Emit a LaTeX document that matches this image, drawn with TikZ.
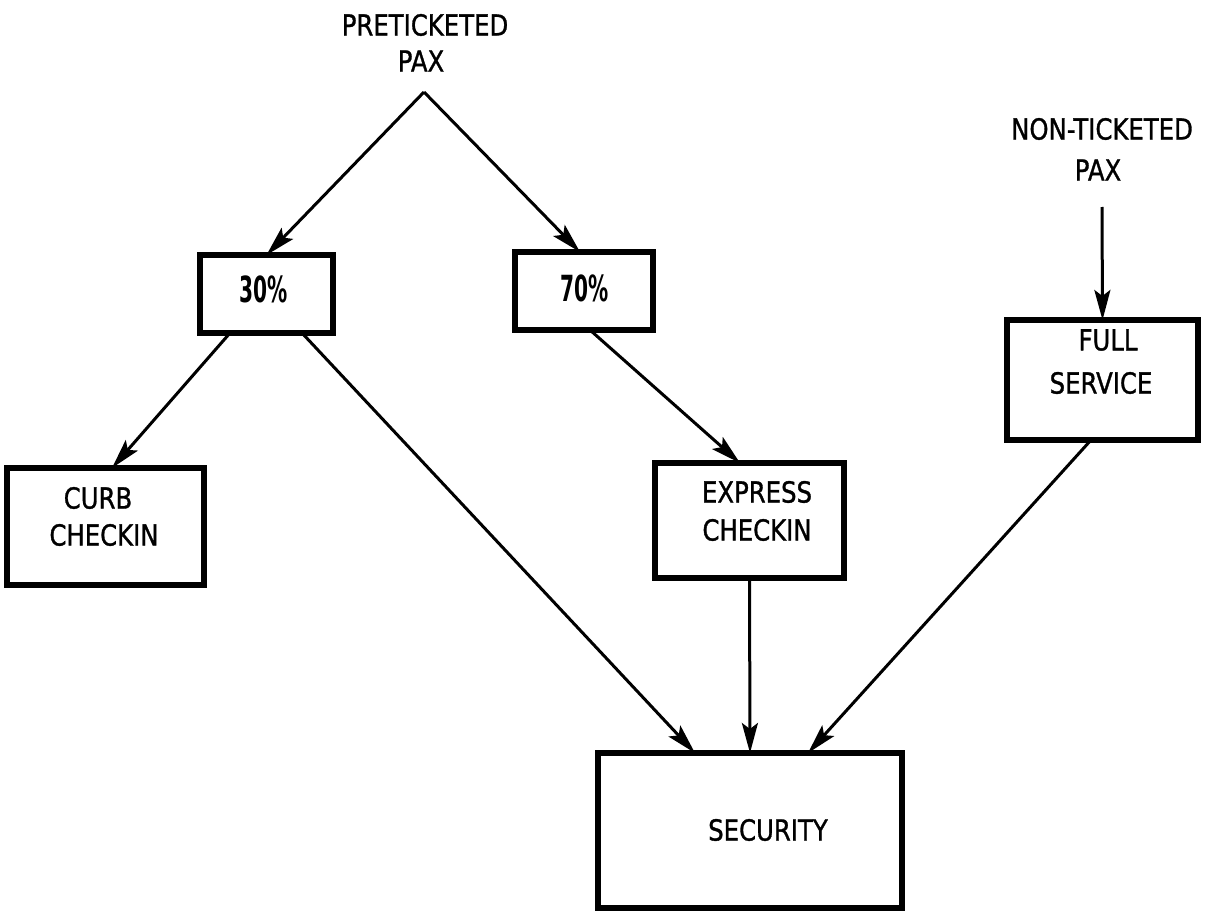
\documentclass[tikz,border=0pt]{standalone}
\usepackage{fontspec}
\setmainfont{DejaVu Sans}
\newfontfamily\letterfont[FakeBold=1.2]{DejaVu Sans}
\usetikzlibrary{arrows.meta}
\newcommand{\narrow}[1]{\scalebox{0.84}[1]{#1}}
\newcommand{\pctnarrow}[1]{\scalebox{0.56}[1]{#1}}
\begin{document}
\begin{tikzpicture}[x=1pt,y=-1pt,
  boxnode/.style={draw=black,line width=5.5pt,minimum width=#1,inner sep=0pt,outer sep=0pt},
  lbl/.style={font=\letterfont\fontsize{29}{32}\selectfont,inner sep=0pt,anchor=center},
  pct/.style={font=\bfseries\fontsize{36}{40}\selectfont,inner sep=0pt,anchor=center},
  arr/.style={line width=3pt,-{Stealth[length=30pt,width=16pt,inset=6pt]}}
]
\useasboundingbox[fill=white] (0,0) rectangle (1209,920);
% boxes
\node[boxnode=133pt,minimum height=78pt] (p30) at (266.5,294) {};
\node[boxnode=138pt,minimum height=78pt] (p70) at (584,291) {};
\node[boxnode=191pt,minimum height=120pt] (full) at (1102.5,380) {};
\node[boxnode=197pt,minimum height=117pt] (curb) at (105.5,526.5) {};
\node[boxnode=189pt,minimum height=115pt] (express) at (749.5,520.5) {};
\node[boxnode=304pt,minimum height=155pt] (security) at (750,830.5) {};
% texts
\node[lbl] (pre1) at (425,25) {\narrow{PRETICKETED}};
\node[lbl] (pre2) at (421,61) {\narrow{PAX}};
\node[lbl] (non1) at (1102,129) {\narrow{NON-TICKETED}};
\node[lbl] (non2) at (1098,170) {\narrow{PAX}};
\node[pct] (t30) at (264,289) {\pctnarrow{30\%}};
\node[pct] (t70) at (585,288) {\pctnarrow{70\%}};
\node[lbl] (full1) at (1108,340) {\narrow{FULL}};
\node[lbl] (full2) at (1101,383) {\narrow{SERVICE}};
\node[lbl] (curb1) at (98,498) {\narrow{CURB}};
\node[lbl] (curb2) at (104,535) {\narrow{CHECKIN}};
\node[lbl] (exp1) at (757,492) {\narrow{EXPRESS}};
\node[lbl] (exp2) at (757,530) {\narrow{CHECKIN}};
\node[lbl] (sec1) at (768,830) {\narrow{SECURITY}};
% connector anchors
\coordinate (apex) at (424,92);
\coordinate (ntp) at (1102,207);
% connectors
\draw[arr] (apex) -- (p30.north);
\draw[arr] (apex) -- ([xshift=-4pt]p70.north);
\draw[arr] ([xshift=-36.5pt]p30.south) -- ([xshift=6.5pt]curb.north);
\draw[arr] ([xshift=35.5pt]p30.south) -- ([xshift=-55pt]security.north);
\draw[arr] ([xshift=6pt]p70.south) -- ([xshift=-9.5pt]express.north);
\draw[arr] (express.south) -- (security.north);
\draw[arr] ([xshift=-11.5pt]full.south) -- ([xshift=58pt]security.north);
\draw[arr] (ntp) -- (full.north);
\end{tikzpicture}
\end{document}
